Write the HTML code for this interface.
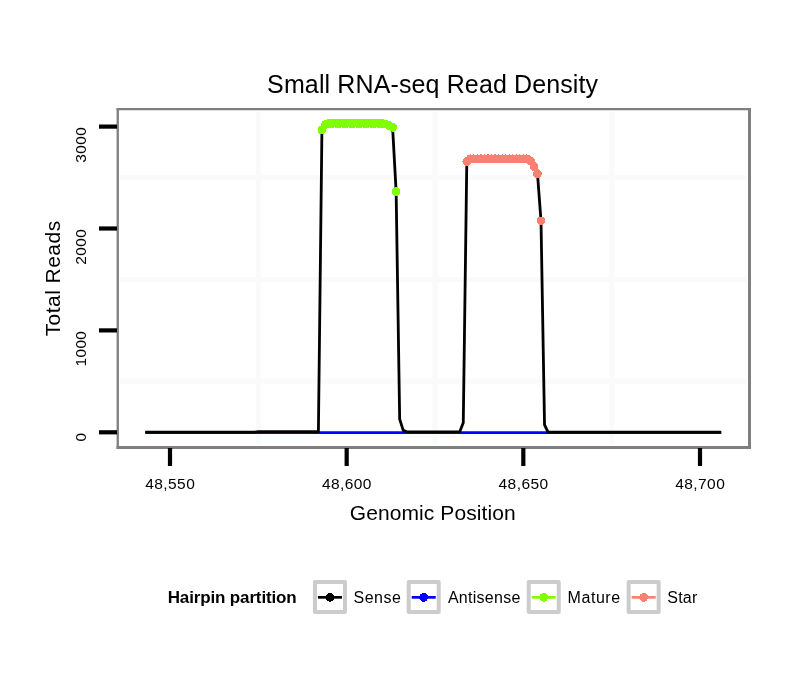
<!DOCTYPE html>
<html><head><meta charset="utf-8"><style>
html,body{margin:0;padding:0;background:#fff;overflow:hidden;width:810px;height:690px;}
svg{display:block;will-change:transform;font-family:"Liberation Sans",sans-serif;}
</style></head><body>
<svg width="810" height="690" viewBox="0 0 810 690">
<rect width="810" height="690" fill="#fff"/>
<g stroke="#fafafa" stroke-width="5"><line x1="258.33" y1="111.9" x2="258.33" y2="444.1"/><line x1="435.00" y1="111.9" x2="435.00" y2="444.1"/><line x1="611.67" y1="111.9" x2="611.67" y2="444.1"/><line x1="120.3" y1="177.55" x2="746" y2="177.55"/><line x1="120.3" y1="279.45" x2="746" y2="279.45"/><line x1="120.3" y1="381.35" x2="746" y2="381.35"/></g>
<line x1="145.27" y1="432.6" x2="721.20" y2="432.6" stroke="#0000ff" stroke-width="2.8"/>
<polyline points="145.27,432.20 148.80,432.20 152.33,432.20 155.87,432.20 159.40,432.20 162.93,432.20 166.47,432.20 170.00,432.20 173.53,432.20 177.07,432.20 180.60,432.20 184.13,432.20 187.67,432.20 191.20,432.20 194.73,432.20 198.27,432.20 201.80,432.20 205.33,432.20 208.87,432.20 212.40,432.20 215.93,432.20 219.47,432.20 223.00,432.20 226.53,432.20 230.07,432.20 233.60,432.20 237.13,432.20 240.67,432.20 244.20,432.20 247.73,432.20 251.27,432.20 254.80,432.20 258.33,431.69 261.87,431.69 265.40,431.69 268.93,431.69 272.47,431.69 276.00,431.69 279.53,431.69 283.07,431.69 286.60,431.69 290.13,431.69 293.67,431.69 297.20,431.69 300.73,431.69 304.27,431.69 307.80,431.69 311.33,431.69 314.87,431.69 318.40,431.69 321.93,130.00 325.47,124.60 329.00,123.40 332.53,123.40 336.07,123.40 339.60,123.40 343.13,123.40 346.67,123.40 350.20,123.40 353.73,123.40 357.27,123.40 360.80,123.40 364.33,123.40 367.87,123.40 371.40,123.40 374.93,123.40 378.47,123.40 382.00,123.40 385.53,123.90 389.07,125.50 392.60,127.30 396.13,191.70 399.67,419.10 403.20,430.30 406.73,431.79 410.27,431.79 413.80,431.79 417.33,431.79 420.87,431.79 424.40,431.79 427.93,431.79 431.47,431.79 435.00,431.79 438.53,431.79 442.07,431.79 445.60,431.79 449.13,431.79 452.67,431.79 456.20,431.79 459.73,431.79 463.27,422.70 466.80,161.50 470.33,158.80 473.87,158.80 477.40,158.80 480.93,158.80 484.47,158.80 488.00,158.80 491.53,158.80 495.07,158.80 498.60,158.80 502.13,158.80 505.67,158.80 509.20,158.80 512.73,158.80 516.27,158.80 519.80,158.80 523.33,158.80 526.87,158.80 530.40,160.70 533.93,166.50 537.47,173.70 541.00,220.90 544.53,424.80 548.07,432.20 551.60,432.20 555.13,432.20 558.67,432.20 562.20,432.20 565.73,432.20 569.27,432.20 572.80,432.20 576.33,432.20 579.87,432.20 583.40,432.20 586.93,432.20 590.47,432.20 594.00,432.20 597.53,432.20 601.07,432.20 604.60,432.20 608.13,432.20 611.67,432.20 615.20,432.20 618.73,432.20 622.27,432.20 625.80,432.20 629.33,432.20 632.87,432.20 636.40,432.20 639.93,432.20 643.47,432.20 647.00,432.20 650.53,432.20 654.07,432.20 657.60,432.20 661.13,432.20 664.67,432.20 668.20,432.20 671.73,432.20 675.27,432.20 678.80,432.20 682.33,432.20 685.87,432.20 689.40,432.20 692.93,432.20 696.47,432.20 700.00,432.20 703.53,432.20 707.07,432.20 710.60,432.20 714.13,432.20 717.67,432.20 721.20,432.20" fill="none" stroke="#000" stroke-width="2.8" stroke-linejoin="round"/>
<g fill="#7fff00" shape-rendering="crispEdges"><circle cx="321.93" cy="130.00" r="4.4"/><circle cx="325.47" cy="124.60" r="4.4"/><circle cx="329.00" cy="123.40" r="4.4"/><circle cx="332.53" cy="123.40" r="4.4"/><circle cx="336.07" cy="123.40" r="4.4"/><circle cx="339.60" cy="123.40" r="4.4"/><circle cx="343.13" cy="123.40" r="4.4"/><circle cx="346.67" cy="123.40" r="4.4"/><circle cx="350.20" cy="123.40" r="4.4"/><circle cx="353.73" cy="123.40" r="4.4"/><circle cx="357.27" cy="123.40" r="4.4"/><circle cx="360.80" cy="123.40" r="4.4"/><circle cx="364.33" cy="123.40" r="4.4"/><circle cx="367.87" cy="123.40" r="4.4"/><circle cx="371.40" cy="123.40" r="4.4"/><circle cx="374.93" cy="123.40" r="4.4"/><circle cx="378.47" cy="123.40" r="4.4"/><circle cx="382.00" cy="123.40" r="4.4"/><circle cx="385.53" cy="123.90" r="4.4"/><circle cx="389.07" cy="125.50" r="4.4"/><circle cx="392.60" cy="127.30" r="4.4"/><circle cx="396.13" cy="191.70" r="4.4"/></g>
<g fill="#fa8072" shape-rendering="crispEdges"><circle cx="466.80" cy="161.50" r="4.4"/><circle cx="470.33" cy="158.80" r="4.4"/><circle cx="473.87" cy="158.80" r="4.4"/><circle cx="477.40" cy="158.80" r="4.4"/><circle cx="480.93" cy="158.80" r="4.4"/><circle cx="484.47" cy="158.80" r="4.4"/><circle cx="488.00" cy="158.80" r="4.4"/><circle cx="491.53" cy="158.80" r="4.4"/><circle cx="495.07" cy="158.80" r="4.4"/><circle cx="498.60" cy="158.80" r="4.4"/><circle cx="502.13" cy="158.80" r="4.4"/><circle cx="505.67" cy="158.80" r="4.4"/><circle cx="509.20" cy="158.80" r="4.4"/><circle cx="512.73" cy="158.80" r="4.4"/><circle cx="516.27" cy="158.80" r="4.4"/><circle cx="519.80" cy="158.80" r="4.4"/><circle cx="523.33" cy="158.80" r="4.4"/><circle cx="526.87" cy="158.80" r="4.4"/><circle cx="530.40" cy="160.70" r="4.4"/><circle cx="533.93" cy="166.50" r="4.4"/><circle cx="537.47" cy="173.70" r="4.4"/><circle cx="541.00" cy="220.90" r="4.4"/></g>
<g stroke="#7f7f7f"><line x1="116.6" y1="109.05" x2="751" y2="109.05" stroke-width="2.2"/><line x1="117.75" y1="108" x2="117.75" y2="449" stroke-width="2.3"/><line x1="749.5" y1="108" x2="749.5" y2="449" stroke-width="3"/><line x1="116.6" y1="447.5" x2="751" y2="447.5" stroke-width="3"/></g>
<g stroke="#000" stroke-width="4.2"><line x1="99" y1="126.60" x2="117" y2="126.60"/><line x1="99" y1="228.50" x2="117" y2="228.50"/><line x1="99" y1="330.40" x2="117" y2="330.40"/><line x1="99" y1="432.30" x2="117" y2="432.30"/><line x1="170.00" y1="448" x2="170.00" y2="466"/><line x1="346.67" y1="448" x2="346.67" y2="466"/><line x1="523.33" y1="448" x2="523.33" y2="466"/><line x1="700.00" y1="448" x2="700.00" y2="466"/></g>
<text x="432.6" y="92.5" font-size="25" text-anchor="middle" fill="#000" textLength="331" lengthAdjust="spacing">Small RNA-seq Read Density</text>
<g font-size="15.5" fill="#000"><text x="170.00" y="489.3" text-anchor="middle" textLength="49.5" lengthAdjust="spacing">48,550</text><text x="346.67" y="489.3" text-anchor="middle" textLength="49.5" lengthAdjust="spacing">48,600</text><text x="523.33" y="489.3" text-anchor="middle" textLength="49.5" lengthAdjust="spacing">48,650</text><text x="700.00" y="489.3" text-anchor="middle" textLength="49.5" lengthAdjust="spacing">48,700</text><text transform="translate(86.1,127.20) rotate(-90)" text-anchor="end" textLength="35.60" lengthAdjust="spacing">3000</text><text transform="translate(86.1,229.10) rotate(-90)" text-anchor="end" textLength="35.60" lengthAdjust="spacing">2000</text><text transform="translate(86.1,331.00) rotate(-90)" text-anchor="end" textLength="35.60" lengthAdjust="spacing">1000</text><text transform="translate(86.1,432.90) rotate(-90)" text-anchor="end" textLength="8.90" lengthAdjust="spacing">0</text></g>
<text x="432.7" y="519.6" font-size="21" text-anchor="middle" textLength="166" lengthAdjust="spacing">Genomic Position</text>
<text transform="translate(59.9,278.6) rotate(-90)" font-size="21" text-anchor="middle" textLength="115.5" lengthAdjust="spacing">Total Reads</text>
<text x="167.7" y="602.9" font-size="17" font-weight="bold" textLength="129" lengthAdjust="spacing">Hairpin partition</text>
<rect x="314.95" y="582.1" width="30" height="30" fill="#fff" stroke="#cccccc" stroke-width="4" stroke-linejoin="round"/><line x1="317.95" y1="597.35" x2="341.95" y2="597.35" stroke="#000000" stroke-width="2.7"/><circle cx="329.95" cy="597.35" r="4.4" fill="#000000" shape-rendering="crispEdges"/><rect x="408.70" y="582.1" width="30" height="30" fill="#fff" stroke="#cccccc" stroke-width="4" stroke-linejoin="round"/><line x1="411.70" y1="597.35" x2="435.70" y2="597.35" stroke="#0000ff" stroke-width="2.7"/><circle cx="423.70" cy="597.35" r="4.4" fill="#0000ff" shape-rendering="crispEdges"/><rect x="528.75" y="582.1" width="30" height="30" fill="#fff" stroke="#cccccc" stroke-width="4" stroke-linejoin="round"/><line x1="531.75" y1="597.35" x2="555.75" y2="597.35" stroke="#7fff00" stroke-width="2.7"/><circle cx="543.75" cy="597.35" r="4.4" fill="#7fff00" shape-rendering="crispEdges"/><rect x="628.65" y="582.1" width="30" height="30" fill="#fff" stroke="#cccccc" stroke-width="4" stroke-linejoin="round"/><line x1="631.65" y1="597.35" x2="655.65" y2="597.35" stroke="#fa8072" stroke-width="2.7"/><circle cx="643.65" cy="597.35" r="4.4" fill="#fa8072" shape-rendering="crispEdges"/>
<g font-size="16">
<text x="353.6" y="602.7" textLength="47.2" lengthAdjust="spacing">Sense</text>
<text x="447.9" y="602.7" textLength="72.5" lengthAdjust="spacing">Antisense</text>
<text x="567.6" y="602.7" textLength="52.5" lengthAdjust="spacing">Mature</text>
<text x="667.3" y="602.7" textLength="30" lengthAdjust="spacing">Star</text>
</g>
</svg>
</body></html>
